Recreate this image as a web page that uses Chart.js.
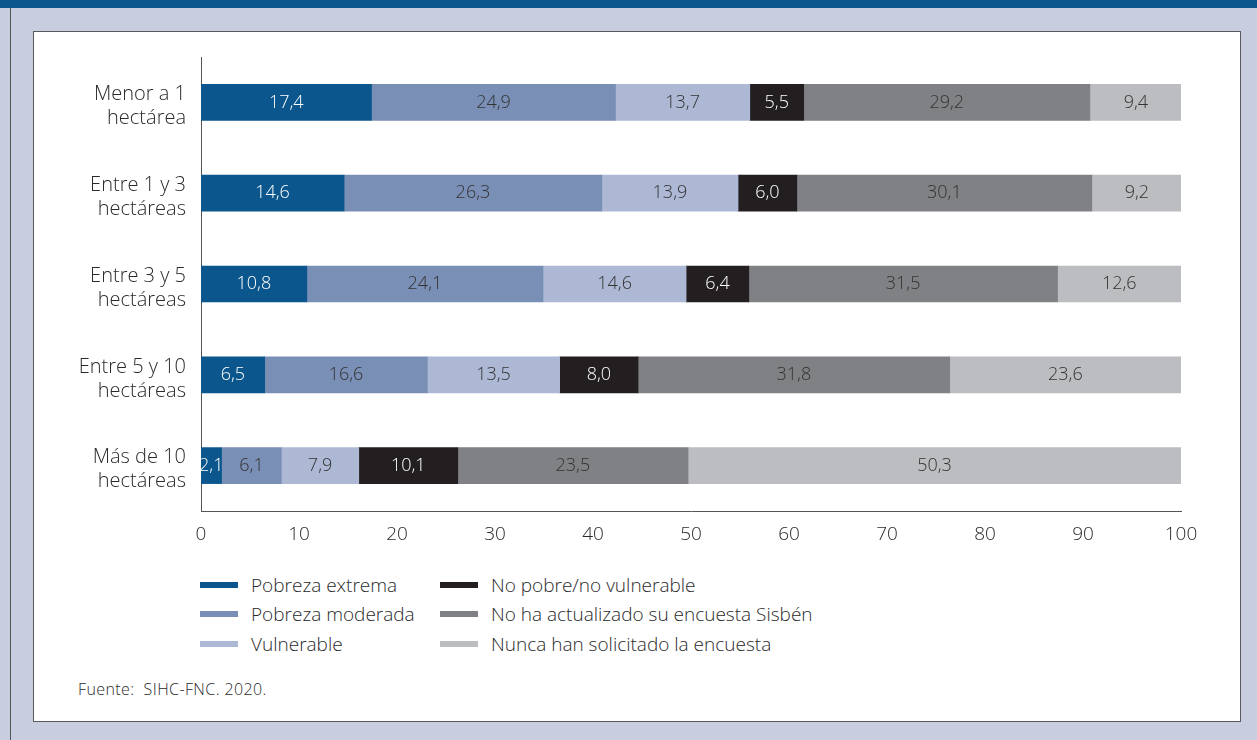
<!DOCTYPE html>
<html>
<head>
<meta charset="utf-8">
<script src="https://cdn.jsdelivr.net/npm/chart.js@4"></script>
<style>
  body { margin: 0; width: 1257px; height: 740px; background: #c8cde0; position: relative; overflow: hidden; font-family: "Open Sans", sans-serif; color: #333; }
  #topbar { position: absolute; left: 0; top: 0; width: 1257px; height: 8px; background: #0b568c; }
  #leftline { position: absolute; left: 10px; top: 8px; width: 1px; height: 732px; background: #555; }
  #panel { position: absolute; left: 33px; top: 31px; width: 1206px; height: 689px; background: #fff; border: 1px solid #5a5a5a; }
  #wrap { position: absolute; left: 0; top: 0; width: 1207px; height: 520px; }
  #legend { position: absolute; left: 166px; top: 538px; display: grid; grid-template-rows: repeat(3, 29.5px); grid-auto-flow: column; grid-template-columns: 240px 400px; }
  .item { display: flex; align-items: center; font-size: 19px; font-weight: 300; color: #2a2a2a; }
  .sw { width: 38px; height: 6px; margin-right: 13px; }
  #source { position: absolute; left: 44px; top: 646px; font-size: 16px; font-weight: 300; letter-spacing: 0.4px; color: #2a2a2a; }
</style>
</head>
<body>
<div id="topbar"></div>
<div id="leftline"></div>
<div id="panel">
  <div id="wrap"><canvas id="chart"></canvas></div>
  <div id="legend"></div>
  <div id="source">Fuente:&nbsp; SIHC-FNC. 2020.</div>
</div>
<script>
const categories = [
  ["Menor a 1", "hectárea"],
  ["Entre 1 y 3", "hectáreas"],
  ["Entre 3 y 5", "hectáreas"],
  ["Entre 5 y 10", "hectáreas"],
  ["Más de 10", "hectáreas"]
];

const pobrezaExtrema = [17.4, 14.6, 10.8, 6.5, 2.1];
const pobrezaModerada = [24.9, 26.3, 24.1, 16.6, 6.1];
const vulnerable = [13.7, 13.9, 14.6, 13.5, 7.9];
const noPobre = [5.5, 6.0, 6.4, 8.0, 10.1];
const noActualizado = [29.2, 30.1, 31.5, 31.8, 23.5];
const nuncaSolicitado = [9.4, 9.2, 12.6, 23.6, 50.3];

const seriesNames = [
  "Pobreza extrema",
  "Pobreza moderada",
  "Vulnerable",
  "No pobre/no vulnerable",
  "No ha actualizado su encuesta Sisbén",
  "Nunca han solicitado la encuesta"
];
const seriesData = [pobrezaExtrema, pobrezaModerada, vulnerable, noPobre, noActualizado, nuncaSolicitado];
const colors = ["#0b568c", "#7a8fb6", "#adb8d5", "#231f20", "#808184", "#bcbdc0"];
const labelColors = ["#fff", "#333", "#333", "#fff", "#333", "#333"];

const fmt = v => v.toFixed(1).replace(".", ",");

// value labels in the middle of each segment
const barLabels = {
  id: "barLabels",
  afterDatasetsDraw(chart) {
    const ctx = chart.ctx;
    ctx.save();
    ctx.font = "300 18px 'Open Sans', sans-serif";
    ctx.textAlign = "center";
    ctx.textBaseline = "middle";
    chart.data.datasets.forEach((ds, i) => {
      chart.getDatasetMeta(i).data.forEach((bar, j) => {
        const x = (bar.x + bar.base) / 2;
        ctx.fillStyle = labelColors[i];
        ctx.fillText(fmt(ds.data[j]), x, bar.y);
      });
    });
    ctx.restore();
  }
};

const tickFont = { family: "'Open Sans'", size: 19, weight: 300 };

const chart = new Chart(document.getElementById("chart"), {
  type: "bar",
  data: {
    labels: categories,
    datasets: seriesData.map((d, i) => ({
      label: seriesNames[i],
      data: d,
      backgroundColor: colors[i],
      barThickness: 36
    }))
  },
  options: {
    indexAxis: "y",
    responsive: true,
    maintainAspectRatio: false,
    animation: false,
    layout: { padding: { top: 25, right: 60, left: 0, bottom: 0 } },
    plugins: { legend: { display: false }, tooltip: { enabled: false } },
    scales: {
      x: {
        stacked: true,
        min: 0,
        max: 100,
        ticks: { stepSize: 10, color: "#2a2a2a", font: tickFont, padding: 12 },
        grid: { display: false, drawTicks: false },
        border: { display: true, color: "#555", width: 1 },
        afterFit: s => { s.height = 41; }
      },
      y: {
        stacked: true,
        ticks: { color: "#2a2a2a", font: { ...tickFont, size: 20, lineHeight: 1.2 }, padding: 15, labelOffset: 4 },
        grid: { display: false, drawTicks: false },
        border: { display: true, color: "#555", width: 1 },
        afterFit: s => { s.width = 167; s.paddingTop = 0; s.paddingBottom = 0; }
      }
    }
  },
  plugins: [barLabels]
});

const legend = document.getElementById("legend");
chart.data.datasets.forEach(ds => {
  const item = document.createElement("div");
  item.className = "item";
  item.innerHTML = `<span class="sw" style="background:${ds.backgroundColor}"></span><span>${ds.label}</span>`;
  legend.appendChild(item);
});
</script>
</body>
</html>
